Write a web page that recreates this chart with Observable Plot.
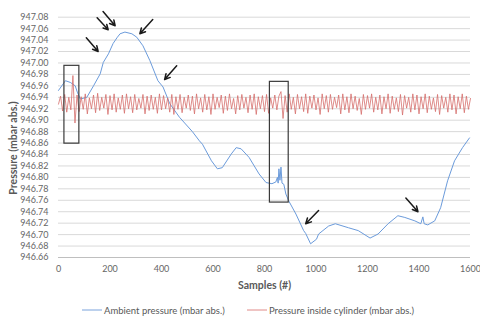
<!DOCTYPE html>
<html><head><meta charset="utf-8">
<script src="https://cdn.jsdelivr.net/npm/d3@7"></script>
<script src="https://cdn.jsdelivr.net/npm/@observablehq/plot@0.6"></script>
<style>
body{margin:0;background:#fff;font-family:Lato,"Open Sans",sans-serif;}
#chart{position:absolute;left:0;top:0;}
.item{position:absolute;top:304px;height:12px;display:flex;align-items:center;gap:2px;font-size:9.5px;color:#595959;font-family:Lato,sans-serif;white-space:nowrap;}
#ytitle{position:absolute;left:13px;top:148px;transform:translate(-50%,-50%) rotate(-90deg);font:bold 10.5px Lato,sans-serif;color:#595959;white-space:nowrap;}
</style></head><body>
<div id="chart"></div>
<div id="ytitle">Pressure (mbar abs.)</div>
<div class="item" style="left:82px"><svg width="20" height="4"><line x1="0" x2="20" y1="2" y2="2" stroke="#7aa3dc" stroke-width="1"/></svg><span>Ambient pressure (mbar abs.)</span></div>
<div class="item" style="left:247px"><svg width="20" height="4"><line x1="0" x2="20" y1="2" y2="2" stroke="#e08a88" stroke-width="1"/></svg><span>Pressure inside cylinder (mbar abs.)</span></div>
<script>
const xTicks = [0,200,400,600,800,1000,1200,1400,1600];
const yTicks = [946.66,946.68,946.70,946.72,946.74,946.76,946.78,946.80,946.82,946.84,946.86,946.88,946.90,946.92,946.94,946.96,946.98,947.00,947.02,947.04,947.06,947.08];

const blueX = [0,27,46,65,73,85,110,136,162,174,194,212,227,239,258,285,304,328,355,386,406,432,470,520,547,559,594,617,636,671,690,709,740,779,806,829,844,850,853,856,860,864,868,875,883,894,922,952,960,979,1002,1010,1049,1075,1126,1164,1210,1241,1280,1318,1345,1384,1407,1415,1420,1434,1461,1484,1511,1538,1569,1596];
const blueY = [946.952,946.969,946.966,946.960,946.949,946.937,946.940,946.960,946.981,947.001,947.016,947.034,947.044,947.051,947.054,947.051,947.045,947.030,947.004,946.969,946.958,946.929,946.905,946.880,946.864,946.858,946.829,946.815,946.817,946.841,946.852,946.850,946.835,946.806,946.791,946.789,946.792,946.800,946.790,946.815,946.795,946.818,946.790,946.788,946.771,946.759,946.736,946.707,946.702,946.684,946.692,946.701,946.715,946.719,946.712,946.707,946.694,946.701,946.719,946.733,946.730,946.724,946.719,946.731,946.719,946.717,946.724,946.747,946.794,946.829,946.852,946.869];

const redStep = 8;
const redY = [
946.928,946.942,946.916,946.945,946.914,946.940,946.918,946.978,946.895,946.944,
946.915,946.941,946.919,946.946,946.911,946.939,946.920,946.944,946.913,946.947,
946.917,946.940,946.921,946.945,946.910,946.943,946.918,946.946,946.914,946.939,
946.919,946.944,946.912,946.946,946.920,946.941,946.913,946.945,946.918,946.938,
946.921,946.945,946.911,946.942,946.917,946.944,946.919,946.940,946.912,946.946,
946.918,946.943,946.920,946.939,946.914,946.945,946.910,946.941,946.919,946.945,
946.913,946.940,946.921,946.944,946.917,946.942,946.911,946.946,946.920,946.939,
946.914,946.945,946.918,946.941,946.910,946.946,946.919,946.940,946.922,946.944,
946.912,946.942,946.917,946.946,946.920,946.938,946.911,946.943,946.918,946.945,
946.921,946.940,946.913,946.944,946.919,946.946,946.910,946.941,946.920,946.943,
946.915,946.945,946.912,946.939,946.921,946.944,946.918,946.942,946.950,946.903,
946.943,946.914,946.946,946.919,946.940,946.911,946.945,946.920,946.941,946.915,
946.946,946.912,946.942,946.921,946.944,946.918,946.939,946.910,946.946,946.920,
946.943,946.914,946.945,946.919,946.940,946.922,946.944,946.911,946.946,946.918,
946.941,946.913,946.946,946.920,946.942,946.917,946.938,946.910,946.945,946.919,
946.943,946.921,946.946,946.914,946.940,946.918,946.944,946.911,946.941,946.920,
946.946,946.912,946.942,946.919,946.939,946.915,946.945,946.909,946.943,946.921,
946.940,946.914,946.946,946.918,946.944,946.911,946.941,946.920,946.946,946.913,
946.942,946.919,946.939,946.915,946.945,946.910,946.943,946.921,946.940,946.914,
946.946,946.918,946.944,946.911,946.941,946.920,946.946,946.913,946.942,946.919,
946.938];

const boxX1 = [23, 821], boxX2 = [81, 894];
const boxY1 = [946.859, 946.756], boxY2 = [946.995, 946.967];

const arrowX1 = [108,150,173,366,459,1010,1349];
const arrowY1 = [947.044,947.079,947.090,947.076,946.995,946.742,946.764];
const arrowX2 = [154,193,220,316,412,960,1396];
const arrowY2 = [947.020,947.058,947.065,947.051,946.971,946.719,946.740];

const blue = blueX.map((x,i)=>({x, y: blueY[i]}));
const red = redY.map((y,i)=>({x: i*redStep, y}));
const boxes = boxX1.map((x,i)=>({x1:x, x2:boxX2[i], y1:boxY1[i], y2:boxY2[i]}));
const arrows = arrowX1.map((x,i)=>({x1:x, y1:arrowY1[i], x2:arrowX2[i], y2:arrowY2[i]}));

const chart = Plot.plot({
  width:480, height:300,
  marginLeft:58, marginRight:10, marginTop:16.7, marginBottom:43,
  x:{domain:[0,1600]},
  y:{domain:[946.66,947.08]},
  style:{fontFamily:"Lato, sans-serif", fontSize:"9px", color:"#666", background:"#fff"},
  marks:[
    Plot.gridY(yTicks,{stroke:"#d9d9d9", strokeOpacity:1}),
    Plot.ruleY([946.66],{stroke:"#bfbfbf"}),
    Plot.axisY(yTicks,{tickSize:0, tickPadding:10, tickFormat:d3.format(".2f"), label:null}),
    Plot.axisX(xTicks,{tickSize:0, tickPadding:8, tickFormat:d3.format("d"), label:null}),
    Plot.line(blue,{x:"x", y:"y", stroke:"#6b9bdb", strokeWidth:1}),
    Plot.line(red,{x:"x", y:"y", stroke:"#d66f6c", strokeWidth:0.8}),
    Plot.rect(boxes,{x1:"x1", x2:"x2", y1:"y1", y2:"y2", fill:"none", stroke:"#3a3a3a", strokeWidth:1.2}),
    Plot.arrow(arrows,{x1:"x1", y1:"y1", x2:"x2", y2:"y2", stroke:"#1a1a1a", strokeWidth:1.5, headLength:6, headAngle:55}),
    Plot.text(["Samples (#)"],{frameAnchor:"bottom", dy:31, fontWeight:"bold", fontSize:10.5, fill:"#595959"})
  ]
});
document.getElementById("chart").appendChild(chart);
</script>
</body></html>
